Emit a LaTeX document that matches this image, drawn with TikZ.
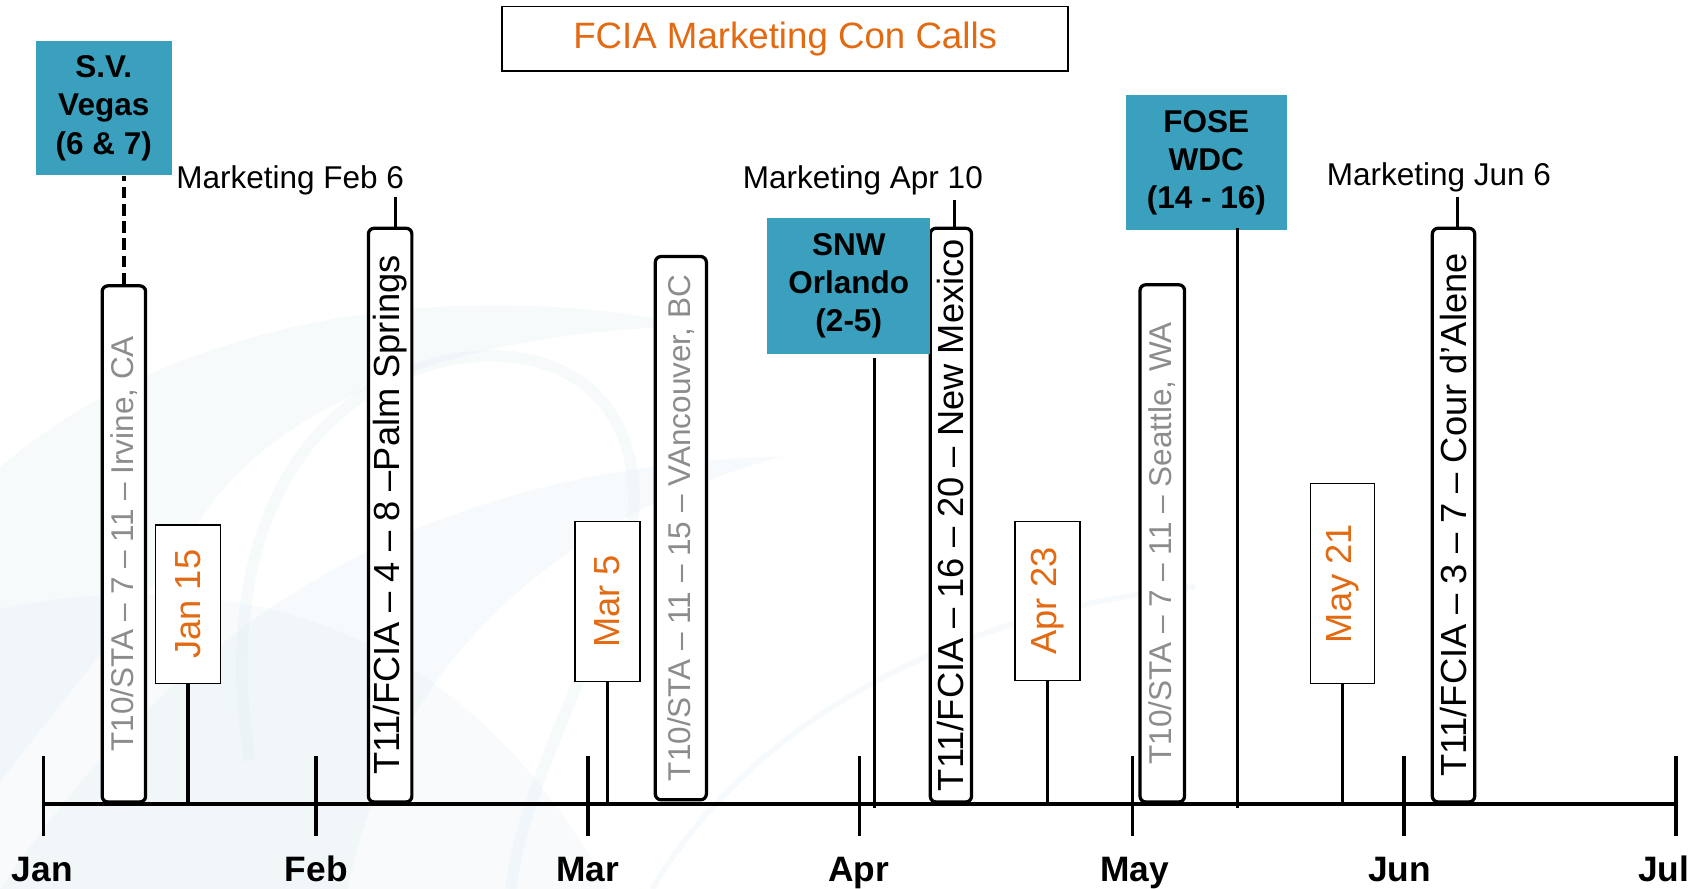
\documentclass[tikz,border=0pt]{standalone}
\usepackage{fontspec}
\setmainfont{Liberation Sans}
\usepackage{graphicx}
\definecolor{tealbox}{RGB}{58,160,190}
\definecolor{orng}{RGB}{226,106,18}
\definecolor{gtxt}{RGB}{140,140,140}
\definecolor{swirl}{RGB}{214,230,239}
\tikzset{
  evbox/.style={draw=black, line width=1.7pt, rounded corners=3pt, fill=white, inner sep=0pt},
  datebox/.style={draw=black, line width=0.8pt, fill=white, inner sep=0pt, text=orng, font=\fontsize{19}{22}\selectfont},
  showbox/.style={fill=tealbox, inner sep=0pt, align=center, font=\fontsize{16.5}{20}\bfseries},
  mktlabel/.style={inner sep=0pt, anchor=base, font=\fontsize{16.5}{20}\selectfont},
  monthlabel/.style={inner sep=0pt, anchor=base, font=\fontsize{18.5}{22}\bfseries},
  graytext/.style={text=gtxt, font=\fontsize{16.5}{20}\selectfont},
  blacktext/.style={text=black, font=\fontsize{19}{22}\selectfont},
  stem/.style={line width=1.7pt},
  axisline/.style={line width=1.9pt},
}
\begin{document}
\begin{tikzpicture}[x=0.02cm,y=-0.02cm]
\useasboundingbox (0,0) rectangle (1568,818);
% background swirls
\fill[swirl, opacity=0.22] (0,430) .. controls (150,300) and (400,250) .. (640,300)
  .. controls (420,305) and (260,370) .. (190,470) .. controls (130,560) and (60,640) .. (0,720) -- cycle;
\fill[swirl, opacity=0.2] (0,818) .. controls (150,600) and (350,430) .. (720,420)
  .. controls (500,480) and (360,620) .. (320,818) -- cycle;
\fill[swirl, opacity=0.18] (0,560) .. controls (200,520) and (420,560) .. (560,818) -- (0,818) -- cycle;
\draw[swirl, line width=6pt, opacity=0.22] (230,700) .. controls (200,520) and (260,360) .. (420,330)
  .. controls (560,310) and (620,420) .. (560,560) .. controls (520,660) and (480,740) .. (470,818);
\draw[swirl, line width=3pt, opacity=0.2] (600,818) .. controls (700,650) and (900,560) .. (1100,540);

% title
\node[draw=black, line width=1pt, fill=white, minimum width=10.42cm, minimum height=1.18cm,
      text=orng, font=\fontsize{19.2}{22}\selectfont] (title) at (722.5,35.5) {FCIA Marketing Con Calls};

% axis
\coordinate (axL) at (40,740);
\coordinate (axR) at (1542,740);
\draw[axisline] (axL) -- (axR);
\foreach \x in {40,290.5,541,791,1042,1292,1542} \draw[axisline] (\x,696) -- (\x,769);
\node[monthlabel] (mJan) at (39,811) {Jan};
\node[monthlabel] (mFeb) at (291,811) {Feb};
\node[monthlabel] (mMar) at (541,811) {Mar};
\node[monthlabel] (mApr) at (790,811) {Apr};
\node[monthlabel] (mMay) at (1044,811) {May};
\node[monthlabel] (mJun) at (1288,811) {Jun};
\node[monthlabel] (mJul) at (1531,811) {Jul};

% tall event boxes
\node[evbox, graytext, minimum width=0.8cm, minimum height=9.5cm] (irvine) at (114,500.5)
  {\rotatebox{90}{T10/STA – 7 – 11 – Irvine, CA}};
\node[evbox, blacktext, minimum width=0.8cm, minimum height=10.56cm] (palm) at (359,474)
  {\rotatebox{90}{T11/FCIA – 4 – 8 –Palm Springs}};
\node[evbox, graytext, minimum width=0.94cm, minimum height=10cm] (vanc) at (626.5,486)
  {\rotatebox{90}{T10/STA – 11 – 15 – VAncouver, BC}};
\node[evbox, blacktext, minimum width=0.76cm, minimum height=10.56cm] (nmex) at (875,474)
  {\rotatebox{90}{T11/FCIA – 16 – 20 – New Mexico}};
\node[evbox, graytext, minimum width=0.82cm, minimum height=9.52cm] (seattle) at (1069.5,500)
  {\rotatebox{90}{T10/STA – 7 – 11 – Seattle, WA}};
\node[evbox, blacktext, minimum width=0.78cm, minimum height=10.56cm] (cour) at (1337.5,474)
  {\rotatebox{90}{T11/FCIA – 3 – 7 – Cour d’Alene}};

% date boxes
\node[datebox, minimum width=1.2cm, minimum height=2.92cm] (jan15) at (173,556) {\rotatebox{90}{Jan 15}};
\node[datebox, minimum width=1.2cm, minimum height=2.94cm] (mar5) at (559,553.5) {\rotatebox{90}{Mar 5}};
\node[datebox, minimum width=1.2cm, minimum height=2.92cm] (apr23) at (964,553) {\rotatebox{90}{Apr 23}};
\node[datebox, minimum width=1.18cm, minimum height=3.68cm] (may21) at (1235.5,537) {\rotatebox{90}{May 21}};

% teal show boxes
\node[showbox, minimum width=2.5cm, minimum height=2.48cm] (sv) at (95.5,99.5) {S.V.\\Vegas\\(6 \& 7)};
\node[showbox, minimum width=3.0cm, minimum height=2.5cm] (snw) at (781,263) {SNW\\Orlando\\(2-5)};
\node[showbox, minimum width=2.96cm, minimum height=2.48cm] (fose) at (1110,149.5) {FOSE\\WDC\\(14 - 16)};

% marketing labels
\node[mktlabel] (mkfeb) at (267,173) {Marketing Feb 6};
\node[mktlabel] (mkapr) at (794,173) {Marketing Apr 10};
\node[mktlabel] (mkjun) at (1324,171) {Marketing Jun 6};

% connectors
\draw[stem, dashed, dash pattern=on 6pt off 3pt] (irvine.north) -- (irvine.north |- sv.south);
\draw[stem] (jan15.south) -- (jan15.south |- axL);
\draw[stem] (mar5.south) -- (mar5.south |- axL);
\draw[stem] (apr23.south) -- (apr23.south |- axL);
\draw[stem] (may21.south) -- (may21.south |- axL);
\coordinate (snwstem) at (805,329);
\draw[stem] (snwstem) -- ([yshift=-2pt]snwstem |- axL);
\coordinate (fosestem) at (1139,210);
\draw[stem] (fosestem) -- ([yshift=-2pt]fosestem |- axL);
\coordinate (febstem) at (364,181);
\draw[stem] (febstem) -- (febstem |- palm.north);
\coordinate (aprstem) at (878,184);
\draw[stem] (aprstem) -- (aprstem |- nmex.north);
\coordinate (junstem) at (1341,181);
\draw[stem] (junstem) -- (junstem |- cour.north);
\end{tikzpicture}
\end{document}
